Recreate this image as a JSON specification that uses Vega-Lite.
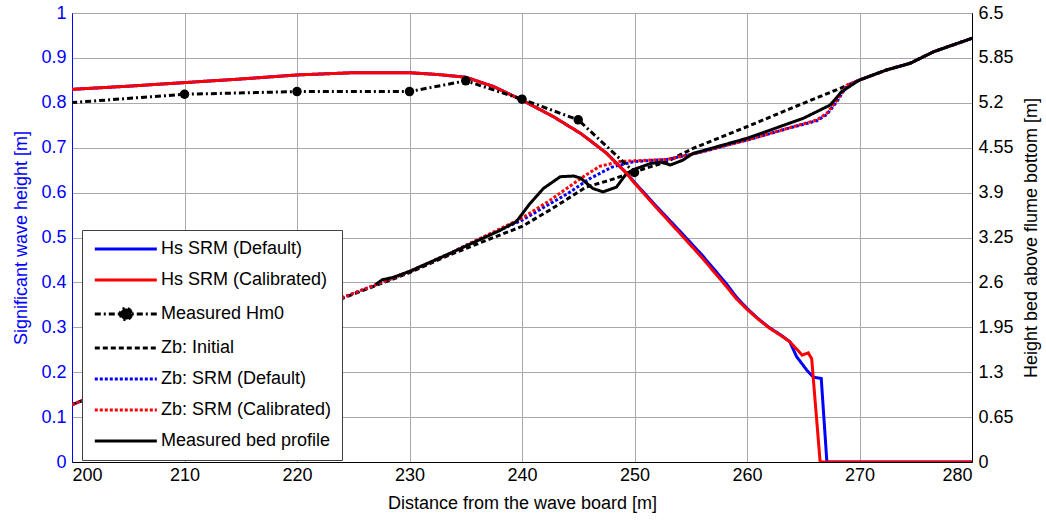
{
  "$schema": "https://vega.github.io/schema/vega-lite/v6.json",
  "width": 900,
  "height": 449,
  "autosize": {"type": "none"},
  "padding": {"left": 72, "top": 13, "right": 74, "bottom": 59},
  "background": "white",
  "config": {
    "font": "Liberation Sans",
    "view": {"stroke": "black", "strokeWidth": 1},
    "axis": {
      "labelFontSize": 18,
      "titleFontSize": 18,
      "titleFontWeight": "normal",
      "labelFont": "Liberation Sans",
      "titleFont": "Liberation Sans",
      "gridColor": "#a8a8a8",
      "gridOpacity": 1,
      "gridWidth": 1,
      "ticks": false,
      "domainColor": "black",
      "labelColor": "black",
      "titleColor": "black"
    }
  },
  "datasets": {
    "hs": [
      {"s": "Hs SRM (Default)", "x": 200, "v": 0.830},
      {"s": "Hs SRM (Default)", "x": 205, "v": 0.837},
      {"s": "Hs SRM (Default)", "x": 210, "v": 0.845},
      {"s": "Hs SRM (Default)", "x": 215, "v": 0.853},
      {"s": "Hs SRM (Default)", "x": 220, "v": 0.862},
      {"s": "Hs SRM (Default)", "x": 225, "v": 0.867},
      {"s": "Hs SRM (Default)", "x": 230, "v": 0.867},
      {"s": "Hs SRM (Default)", "x": 232.5, "v": 0.863},
      {"s": "Hs SRM (Default)", "x": 235, "v": 0.857},
      {"s": "Hs SRM (Default)", "x": 237.5, "v": 0.836},
      {"s": "Hs SRM (Default)", "x": 240, "v": 0.806},
      {"s": "Hs SRM (Default)", "x": 242.8, "v": 0.769},
      {"s": "Hs SRM (Default)", "x": 245.2, "v": 0.732},
      {"s": "Hs SRM (Default)", "x": 246, "v": 0.717},
      {"s": "Hs SRM (Default)", "x": 247.5, "v": 0.688},
      {"s": "Hs SRM (Default)", "x": 249.3, "v": 0.643},
      {"s": "Hs SRM (Default)", "x": 250, "v": 0.623},
      {"s": "Hs SRM (Default)", "x": 252, "v": 0.568},
      {"s": "Hs SRM (Default)", "x": 254.3, "v": 0.507},
      {"s": "Hs SRM (Default)", "x": 256, "v": 0.461},
      {"s": "Hs SRM (Default)", "x": 258.2, "v": 0.396},
      {"s": "Hs SRM (Default)", "x": 259, "v": 0.369},
      {"s": "Hs SRM (Default)", "x": 260, "v": 0.342},
      {"s": "Hs SRM (Default)", "x": 261, "v": 0.319},
      {"s": "Hs SRM (Default)", "x": 262, "v": 0.299},
      {"s": "Hs SRM (Default)", "x": 263, "v": 0.283},
      {"s": "Hs SRM (Default)", "x": 263.8, "v": 0.268},
      {"s": "Hs SRM (Default)", "x": 264.4, "v": 0.235},
      {"s": "Hs SRM (Default)", "x": 265.3, "v": 0.205},
      {"s": "Hs SRM (Default)", "x": 265.9, "v": 0.189},
      {"s": "Hs SRM (Default)", "x": 266.6, "v": 0.186},
      {"s": "Hs SRM (Default)", "x": 267.1, "v": 0},
      {"s": "Hs SRM (Default)", "x": 280, "v": 0},
      {"s": "Hs SRM (Calibrated)", "x": 200, "v": 0.830},
      {"s": "Hs SRM (Calibrated)", "x": 205, "v": 0.837},
      {"s": "Hs SRM (Calibrated)", "x": 210, "v": 0.845},
      {"s": "Hs SRM (Calibrated)", "x": 215, "v": 0.853},
      {"s": "Hs SRM (Calibrated)", "x": 220, "v": 0.862},
      {"s": "Hs SRM (Calibrated)", "x": 225, "v": 0.867},
      {"s": "Hs SRM (Calibrated)", "x": 230, "v": 0.867},
      {"s": "Hs SRM (Calibrated)", "x": 232.5, "v": 0.863},
      {"s": "Hs SRM (Calibrated)", "x": 235, "v": 0.857},
      {"s": "Hs SRM (Calibrated)", "x": 237.5, "v": 0.836},
      {"s": "Hs SRM (Calibrated)", "x": 240, "v": 0.806},
      {"s": "Hs SRM (Calibrated)", "x": 242.8, "v": 0.769},
      {"s": "Hs SRM (Calibrated)", "x": 245.2, "v": 0.732},
      {"s": "Hs SRM (Calibrated)", "x": 246, "v": 0.717},
      {"s": "Hs SRM (Calibrated)", "x": 247.5, "v": 0.688},
      {"s": "Hs SRM (Calibrated)", "x": 249.3, "v": 0.643},
      {"s": "Hs SRM (Calibrated)", "x": 250, "v": 0.621},
      {"s": "Hs SRM (Calibrated)", "x": 252, "v": 0.565},
      {"s": "Hs SRM (Calibrated)", "x": 254.3, "v": 0.502},
      {"s": "Hs SRM (Calibrated)", "x": 256, "v": 0.455},
      {"s": "Hs SRM (Calibrated)", "x": 258.2, "v": 0.390},
      {"s": "Hs SRM (Calibrated)", "x": 259, "v": 0.365},
      {"s": "Hs SRM (Calibrated)", "x": 260, "v": 0.340},
      {"s": "Hs SRM (Calibrated)", "x": 261, "v": 0.318},
      {"s": "Hs SRM (Calibrated)", "x": 262, "v": 0.298},
      {"s": "Hs SRM (Calibrated)", "x": 263, "v": 0.282},
      {"s": "Hs SRM (Calibrated)", "x": 263.8, "v": 0.268},
      {"s": "Hs SRM (Calibrated)", "x": 264.1, "v": 0.260},
      {"s": "Hs SRM (Calibrated)", "x": 264.9, "v": 0.238},
      {"s": "Hs SRM (Calibrated)", "x": 265.45, "v": 0.243},
      {"s": "Hs SRM (Calibrated)", "x": 265.75, "v": 0.230},
      {"s": "Hs SRM (Calibrated)", "x": 266.5, "v": 0},
      {"s": "Hs SRM (Calibrated)", "x": 280, "v": 0},
      {"s": "Measured Hm0", "x": 190, "v": 0.782},
      {"s": "Measured Hm0", "x": 210, "v": 0.819},
      {"s": "Measured Hm0", "x": 220, "v": 0.825},
      {"s": "Measured Hm0", "x": 230, "v": 0.825},
      {"s": "Measured Hm0", "x": 235, "v": 0.849},
      {"s": "Measured Hm0", "x": 240, "v": 0.808},
      {"s": "Measured Hm0", "x": 245, "v": 0.762},
      {"s": "Measured Hm0", "x": 250, "v": 0.645}
    ],
    "bed": [
      {"s": "Zb: Initial", "x": 200, "v": 0.83},
      {"s": "Zb: Initial", "x": 225, "v": 2.43},
      {"s": "Zb: Initial", "x": 230, "v": 2.74},
      {"s": "Zb: Initial", "x": 233.6, "v": 3.0},
      {"s": "Zb: Initial", "x": 237, "v": 3.22},
      {"s": "Zb: Initial", "x": 240, "v": 3.41},
      {"s": "Zb: Initial", "x": 242.5, "v": 3.65},
      {"s": "Zb: Initial", "x": 245.7, "v": 3.98},
      {"s": "Zb: Initial", "x": 247.8, "v": 4.08},
      {"s": "Zb: Initial", "x": 250, "v": 4.2},
      {"s": "Zb: Initial", "x": 252.9, "v": 4.35},
      {"s": "Zb: Initial", "x": 255.2, "v": 4.54},
      {"s": "Zb: Initial", "x": 260, "v": 4.854},
      {"s": "Zb: Initial", "x": 265, "v": 5.193},
      {"s": "Zb: Initial", "x": 268.3, "v": 5.41},
      {"s": "Zb: Initial", "x": 270, "v": 5.53},
      {"s": "Zb: Initial", "x": 272.4, "v": 5.675},
      {"s": "Zb: Initial", "x": 274.5, "v": 5.772},
      {"s": "Zb: Initial", "x": 276.6, "v": 5.94},
      {"s": "Zb: Initial", "x": 280, "v": 6.134},
      {"s": "Zb: SRM (Default)", "x": 200, "v": 0.83},
      {"s": "Zb: SRM (Default)", "x": 225, "v": 2.44},
      {"s": "Zb: SRM (Default)", "x": 230, "v": 2.755},
      {"s": "Zb: SRM (Default)", "x": 233.6, "v": 3.02},
      {"s": "Zb: SRM (Default)", "x": 235.4, "v": 3.166},
      {"s": "Zb: SRM (Default)", "x": 240, "v": 3.50},
      {"s": "Zb: SRM (Default)", "x": 242.5, "v": 3.74},
      {"s": "Zb: SRM (Default)", "x": 244, "v": 3.88},
      {"s": "Zb: SRM (Default)", "x": 246, "v": 4.10},
      {"s": "Zb: SRM (Default)", "x": 248, "v": 4.27},
      {"s": "Zb: SRM (Default)", "x": 250, "v": 4.35},
      {"s": "Zb: SRM (Default)", "x": 252.9, "v": 4.38},
      {"s": "Zb: SRM (Default)", "x": 255.5, "v": 4.47},
      {"s": "Zb: SRM (Default)", "x": 260, "v": 4.66},
      {"s": "Zb: SRM (Default)", "x": 264.1, "v": 4.85},
      {"s": "Zb: SRM (Default)", "x": 266.2, "v": 4.94},
      {"s": "Zb: SRM (Default)", "x": 267.1, "v": 5.03},
      {"s": "Zb: SRM (Default)", "x": 268, "v": 5.22},
      {"s": "Zb: SRM (Default)", "x": 268.9, "v": 5.45},
      {"s": "Zb: SRM (Default)", "x": 270, "v": 5.53},
      {"s": "Zb: SRM (Default)", "x": 272.4, "v": 5.675},
      {"s": "Zb: SRM (Default)", "x": 274.5, "v": 5.772},
      {"s": "Zb: SRM (Default)", "x": 276.6, "v": 5.94},
      {"s": "Zb: SRM (Default)", "x": 280, "v": 6.134},
      {"s": "Zb: SRM (Calibrated)", "x": 200, "v": 0.83},
      {"s": "Zb: SRM (Calibrated)", "x": 225, "v": 2.44},
      {"s": "Zb: SRM (Calibrated)", "x": 230, "v": 2.755},
      {"s": "Zb: SRM (Calibrated)", "x": 233.6, "v": 3.02},
      {"s": "Zb: SRM (Calibrated)", "x": 235.4, "v": 3.166},
      {"s": "Zb: SRM (Calibrated)", "x": 240, "v": 3.53},
      {"s": "Zb: SRM (Calibrated)", "x": 242.5, "v": 3.79},
      {"s": "Zb: SRM (Calibrated)", "x": 245.45, "v": 4.13},
      {"s": "Zb: SRM (Calibrated)", "x": 246.9, "v": 4.28},
      {"s": "Zb: SRM (Calibrated)", "x": 248.7, "v": 4.35},
      {"s": "Zb: SRM (Calibrated)", "x": 250, "v": 4.36},
      {"s": "Zb: SRM (Calibrated)", "x": 252.9, "v": 4.38},
      {"s": "Zb: SRM (Calibrated)", "x": 255.5, "v": 4.47},
      {"s": "Zb: SRM (Calibrated)", "x": 260, "v": 4.66},
      {"s": "Zb: SRM (Calibrated)", "x": 264.1, "v": 4.854},
      {"s": "Zb: SRM (Calibrated)", "x": 266.2, "v": 4.95},
      {"s": "Zb: SRM (Calibrated)", "x": 267.1, "v": 5.048},
      {"s": "Zb: SRM (Calibrated)", "x": 268, "v": 5.24},
      {"s": "Zb: SRM (Calibrated)", "x": 268.9, "v": 5.458},
      {"s": "Zb: SRM (Calibrated)", "x": 270, "v": 5.53},
      {"s": "Zb: SRM (Calibrated)", "x": 272.4, "v": 5.675},
      {"s": "Zb: SRM (Calibrated)", "x": 274.5, "v": 5.772},
      {"s": "Zb: SRM (Calibrated)", "x": 276.6, "v": 5.94},
      {"s": "Zb: SRM (Calibrated)", "x": 280, "v": 6.134},
      {"s": "Measured bed profile", "x": 227, "v": 2.57},
      {"s": "Measured bed profile", "x": 227.6, "v": 2.64},
      {"s": "Measured bed profile", "x": 228.5, "v": 2.67},
      {"s": "Measured bed profile", "x": 230, "v": 2.76},
      {"s": "Measured bed profile", "x": 233.6, "v": 3.02},
      {"s": "Measured bed profile", "x": 236, "v": 3.2},
      {"s": "Measured bed profile", "x": 238, "v": 3.35},
      {"s": "Measured bed profile", "x": 239.5, "v": 3.48},
      {"s": "Measured bed profile", "x": 240.7, "v": 3.74},
      {"s": "Measured bed profile", "x": 241.9, "v": 3.96},
      {"s": "Measured bed profile", "x": 243.4, "v": 4.13},
      {"s": "Measured bed profile", "x": 244.6, "v": 4.14},
      {"s": "Measured bed profile", "x": 245.2, "v": 4.11},
      {"s": "Measured bed profile", "x": 246.3, "v": 3.96},
      {"s": "Measured bed profile", "x": 247.2, "v": 3.91},
      {"s": "Measured bed profile", "x": 248.4, "v": 3.98},
      {"s": "Measured bed profile", "x": 249.3, "v": 4.18},
      {"s": "Measured bed profile", "x": 250.2, "v": 4.25},
      {"s": "Measured bed profile", "x": 251.4, "v": 4.32},
      {"s": "Measured bed profile", "x": 252.3, "v": 4.34},
      {"s": "Measured bed profile", "x": 253.2, "v": 4.30},
      {"s": "Measured bed profile", "x": 254.3, "v": 4.37},
      {"s": "Measured bed profile", "x": 255.2, "v": 4.467},
      {"s": "Measured bed profile", "x": 260, "v": 4.686},
      {"s": "Measured bed profile", "x": 265, "v": 4.975},
      {"s": "Measured bed profile", "x": 267.4, "v": 5.168},
      {"s": "Measured bed profile", "x": 268.4, "v": 5.36},
      {"s": "Measured bed profile", "x": 270, "v": 5.53},
      {"s": "Measured bed profile", "x": 272.4, "v": 5.675},
      {"s": "Measured bed profile", "x": 274.5, "v": 5.772},
      {"s": "Measured bed profile", "x": 276.6, "v": 5.94},
      {"s": "Measured bed profile", "x": 280, "v": 6.134}
    ]
  },
  "encoding": {
    "x": {
      "field": "x",
      "type": "quantitative",
      "scale": {"domain": [200, 280], "nice": false, "zero": false},
      "axis": {
        "title": "Distance from the wave board [m]",
        "values": [200, 210, 220, 230, 240, 250, 260, 270, 280],
        "format": "d",
        "grid": true,
        "labelPadding": 4,
        "titlePadding": 10
      }
    }
  },
  "layer": [
    {
      "data": {"name": "bed"},
      "mark": {"type": "line", "clip": true, "strokeWidth": 3},
      "encoding": {
        "y": {
          "field": "v",
          "type": "quantitative",
          "scale": {"domain": [0, 6.5], "nice": false},
          "axis": {
            "orient": "right",
            "title": "Height bed above flume bottom [m]",
            "values": [0, 0.65, 1.3, 1.95, 2.6, 3.25, 3.9, 4.55, 5.2, 5.85, 6.5],
            "labelExpr": "'' + datum.value",
            "grid": false,
            "labelPadding": 6,
            "titlePadding": 9,
            "titleAngle": 270,
            "titleBaseline": "top"
          }
        },
        "color": {
          "field": "s",
          "type": "nominal",
          "scale": {
            "domain": ["Hs SRM (Default)", "Hs SRM (Calibrated)", "Measured Hm0", "Zb: Initial", "Zb: SRM (Default)", "Zb: SRM (Calibrated)", "Measured bed profile"],
            "range": ["#0000ff", "#ff0000", "#000000", "#000000", "#0000ff", "#ff0000", "#000000"]
          },
          "legend": {
            "title": null,
            "orient": "none",
            "legendX": 10,
            "legendY": 217,
            "padding": 10,
            "rowPadding": 13,
            "labelOffset": 51,
            "labelFontSize": 18,
            "labelFont": "Liberation Sans",
            "labelColor": "black",
            "labelLimit": 400,
            "symbolType": "M-1,0H9",
            "symbolSize": 154,
            "symbolStrokeWidth": 3,
            "strokeColor": "#404040",
            "fillColor": "white",
            "zindex": 2,
            "encode": {
              "symbols": {
                "update": {
                  "shape": {"signal": "datum.value === 'Measured Hm0' ? 'M-1,0H9M4.9,0A0.9,0.9,0,1,1,3.1,0A0.9,0.9,0,1,1,4.9,0' : 'M-1,0H9'"},
                  "fill": {"signal": "datum.value === 'Measured Hm0' ? 'black' : 'transparent'"}
                }
              }
            }
          }
        },
        "strokeDash": {
          "field": "s",
          "type": "nominal",
          "scale": {
            "domain": ["Hs SRM (Default)", "Hs SRM (Calibrated)", "Measured Hm0", "Zb: Initial", "Zb: SRM (Default)", "Zb: SRM (Calibrated)", "Measured bed profile"],
            "range": [[1, 0], [1, 0], [6, 3, 2, 3], [5, 3], [3, 2], [3, 2], [1, 0]]
          }
        }
      }
    },
    {
      "data": {"name": "hs"},
      "encoding": {
        "y": {
          "field": "v",
          "type": "quantitative",
          "scale": {"domain": [0, 1], "nice": false},
          "axis": {
            "orient": "left",
            "title": "Significant wave height [m]",
            "values": [0, 0.1, 0.2, 0.3, 0.4, 0.5, 0.6, 0.7, 0.8, 0.9, 1],
            "labelExpr": "'' + datum.value",
            "grid": true,
            "labelColor": "#0000ff",
            "titleColor": "#0000ff",
            "domainColor": "#0000ff",
            "labelPadding": 6,
            "titlePadding": 10
          }
        }
      },
      "layer": [
        {
          "mark": {"type": "line", "clip": true, "strokeWidth": 3},
          "encoding": {
            "color": {
              "field": "s",
              "type": "nominal",
              "scale": {
                "domain": ["Hs SRM (Default)", "Hs SRM (Calibrated)", "Measured Hm0", "Zb: Initial", "Zb: SRM (Default)", "Zb: SRM (Calibrated)", "Measured bed profile"],
                "range": ["#0000ff", "#ff0000", "#000000", "#000000", "#0000ff", "#ff0000", "#000000"]
              }
            },
            "strokeDash": {
              "field": "s",
              "type": "nominal",
              "scale": {
                "domain": ["Hs SRM (Default)", "Hs SRM (Calibrated)", "Measured Hm0", "Zb: Initial", "Zb: SRM (Default)", "Zb: SRM (Calibrated)", "Measured bed profile"],
                "range": [[1, 0], [1, 0], [6, 3, 2, 3], [5, 3], [3, 2], [3, 2], [1, 0]]
              }
            }
          }
        },
        {
          "transform": [{"filter": "datum.s === 'Measured Hm0'"}],
          "mark": {"type": "point", "filled": true, "size": 90, "color": "black", "opacity": 1, "clip": true},
          "encoding": {}
        }
      ]
    }
  ],
  "resolve": {"scale": {"y": "independent"}}
}
